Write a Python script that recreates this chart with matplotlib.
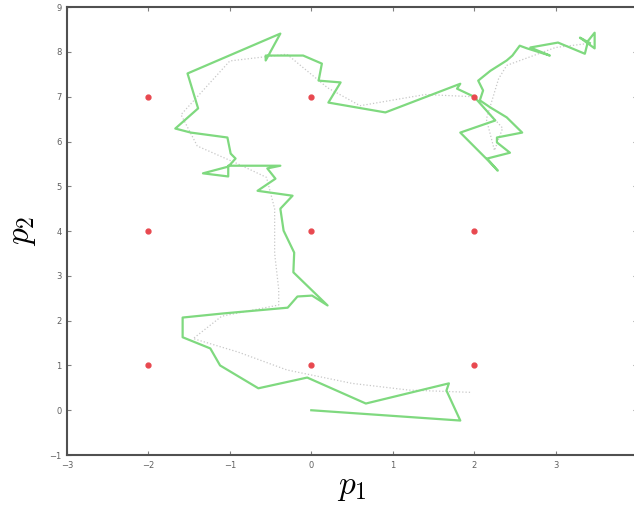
import numpy as np
import matplotlib
matplotlib.use("Agg")
import matplotlib.pyplot as plt

plt.rcParams["mathtext.fontset"] = "cm"

# ── data ──────────────────────────────────────────────────────────────────────
# grid of red target points
grid_x = [-2, 0, 2, -2, 0, 2, -2, 0, 2]
grid_y = [1, 1, 1, 4, 4, 4, 7, 7, 7]

path_x = [0.00, 1.83, 1.66, 1.69, 0.67, -0.05, -0.65, -1.12, -1.24, -1.58,
          -1.58, -1.09, -0.29, -0.17, 0.01, 0.20, -0.22, -0.21, -0.34, -0.38,
          -0.23, -0.66, -0.44, -0.54, -0.38, -1.02, -1.02, -1.33, -1.02, -0.93,
          -0.99, -1.03, -1.48, -1.67, -1.39, -1.52, -0.38, -0.56, -0.56, -0.10,
          0.13, 0.09, 0.36, 0.21, 0.91, 1.83, 1.79, 2.00, 2.26, 1.83,
          2.17, 2.29, 2.16, 2.44, 2.28, 2.28, 2.59, 2.40, 2.20, 2.07,
          2.11, 2.05, 2.20, 2.40, 2.47, 2.56, 2.65, 2.93, 2.69, 3.03,
          3.36, 3.40, 3.48, 3.48, 3.30, 3.42]
path_y = [0.00, -0.23, 0.44, 0.60, 0.15, 0.73, 0.49, 1.00, 1.38, 1.63,
          2.07, 2.16, 2.29, 2.54, 2.56, 2.34, 3.08, 3.52, 4.01, 4.50,
          4.79, 4.90, 5.17, 5.40, 5.46, 5.46, 5.22, 5.29, 5.44, 5.62,
          5.73, 6.09, 6.20, 6.29, 6.74, 7.52, 8.41, 7.81, 7.92, 7.92,
          7.74, 7.36, 7.32, 6.87, 6.65, 7.29, 7.18, 7.00, 6.47, 6.20,
          5.58, 5.35, 5.62, 5.75, 5.98, 6.09, 6.20, 6.54, 6.76, 6.92,
          7.14, 7.36, 7.58, 7.81, 7.92, 8.14, 8.08, 7.92, 8.10, 8.21,
          7.96, 8.25, 8.43, 8.08, 8.32, 8.20]

# faint dotted reference trajectory
ref_x = [1.95, 1.2, 0.5, -0.3, -0.9, -1.45, -1.1, -0.4, -0.40, -0.45,
         -0.45, -0.55, -0.90, -1.40, -1.60, -1.00, -0.30, 0.20, 0.60, 1.40,
         2.00, 2.35, 2.25, 2.15, 2.30, 2.40, 3.00, 3.45]
ref_y = [0.40, 0.45, 0.60, 0.90, 1.30, 1.60, 2.10, 2.35, 2.70, 3.50,
         4.50, 5.20, 5.50, 5.90, 6.60, 7.80, 7.95, 7.20, 6.80, 7.05,
         7.00, 6.30, 5.80, 6.50, 7.40, 7.70, 8.10, 8.20]

# ── plot ──────────────────────────────────────────────────────────────────────
fig = plt.figure(figsize=(6.34, 5.13), dpi=100)
ax = fig.add_axes([0.1057, 0.113, 0.899, 0.873])

ax.plot(ref_x, ref_y, ls=":", color="#c8c8c8", lw=0.9)
ax.plot(path_x, path_y, color="#7fd97f", lw=1.6)
ax.plot(grid_x, grid_y, ls="none", marker="o", ms=3.5, color="#e8484f")

ax.set_xlim(-3, 4)
ax.set_ylim(-1, 9)
ax.set_xticks(range(-3, 5))
ax.set_yticks(range(-1, 10))

for s in ax.spines.values():
    s.set_color("#505050")
    s.set_linewidth(1.5)
ax.tick_params(direction="in", length=3, width=0.8, color="#808080",
               labelsize=6, labelcolor="#606060", top=True, right=True, pad=4)

ax.set_xlabel("$p_1$", fontsize=24, labelpad=0)
ax.set_ylabel("$p_2$", fontsize=24, labelpad=8)

fig.savefig("out.png", dpi=100)
